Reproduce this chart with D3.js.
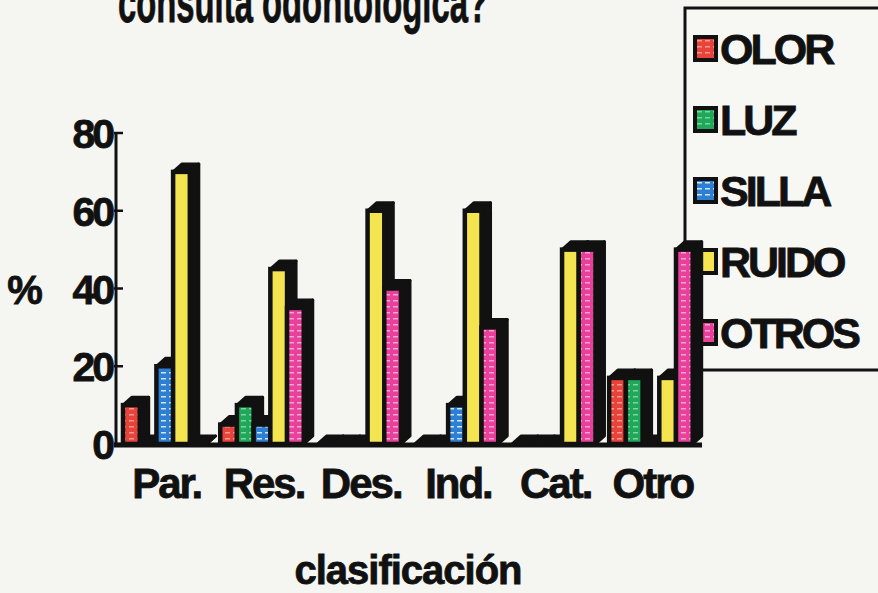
<!DOCTYPE html>
<html>

<head>
  <script src="https://d3js.org/d3.v7.min.js"></script>
  <style>
    body {
      margin: 0;
      background: #f5f5f2;
    }

    .chart text {
      font-family: "Liberation Sans", Arial, sans-serif;
      font-weight: bold;
      fill: #111;
      stroke: #111;
      stroke-width: 0.8px;
    }
  </style>
</head>

<body>
  <div id="chart"></div>

  <script>
    // chart data
    const categories = ["Par.", "Res.", "Des.", "Ind.", "Cat.", "Otro"];
    const seriesNames = ["OLOR", "LUZ", "SILLA", "RUIDO", "OTROS"];
    const olor = [10, 5, 0, 0, 0, 17];
    const luz = [0, 10, 0, 0, 0, 17];
    const silla = [20, 5, 0, 10, 0, 0];
    const ruido = [70, 45, 60, 60, 50, 17];
    const otros = [0, 35, 40, 30, 50, 50];
    const yTicks = [0, 20, 40, 60, 80];

    const seriesValues = [olor, luz, silla, ruido, otros];
    const colors = ["#e8433b", "#1fa85a", "#2c7fd2", "#f3e450", "#e9409c"];
    const stripe = ["#f59a8c", "#7fd39c", "#cfe6ff", null, "#f7a6d2"];

    const width = 878, height = 593;
    const depth = { dx: 9, dy: 8 };

    const svg = d3.select("#chart")
      .append("svg")
      .attr("class", "chart")
      .attr("width", width)
      .attr("height", height);

    svg.append("rect")
      .attr("width", width)
      .attr("height", height)
      .attr("fill", "#f5f5f2");

    // stripe patterns for the bar faces
    const defs = svg.append("defs");
    seriesNames.forEach((name, i) => {
      const p = defs.append("pattern")
        .attr("id", "pat" + i)
        .attr("patternUnits", "userSpaceOnUse")
        .attr("width", 8)
        .attr("height", 6);
      p.append("rect").attr("width", 8).attr("height", 6).attr("fill", colors[i]);
      if (stripe[i]) {
        p.append("rect").attr("x", 1).attr("y", 0).attr("width", 5).attr("height", 1.5)
          .attr("fill", stripe[i]);
      }
    });

    // scales
    const x = d3.scaleBand()
      .domain(categories)
      .range([123, 692.7])
      .paddingInner(0.141)
      .paddingOuter(0);

    const xs = d3.scaleBand()
      .domain(seriesNames)
      .range([0, x.bandwidth()])
      .padding(0);

    const y = d3.scaleLinear()
      .domain([0, 80])
      .range([444, 133]);

    // title (only the lower line survives in the scan)
    svg.append("text")
      .attr("x", 118)
      .attr("y", 22)
      .attr("font-size", 58)
      .attr("textLength", 370)
      .attr("lengthAdjust", "spacingAndGlyphs")
      .text("consulta odontológica?");

    // legend box (bars overlap its left edge)
    const legend = svg.append("g").attr("class", "legend");
    legend.append("rect")
      .attr("x", 685)
      .attr("y", 8)
      .attr("width", 220)
      .attr("height", 362)
      .attr("fill", "#f7f7f4")
      .attr("stroke", "#111")
      .attr("stroke-width", 3);

    // y axis
    const yAxis = svg.append("g").attr("class", "y-axis");
    yAxis.append("line")
      .attr("x1", 116).attr("x2", 116)
      .attr("y1", y(80) - 1).attr("y2", y(0) + 2)
      .attr("stroke", "#111")
      .attr("stroke-width", 3);
    yAxis.selectAll(".tick")
      .data(yTicks)
      .enter().append("line")
      .attr("x1", 114).attr("x2", 123)
      .attr("y1", d => y(d)).attr("y2", d => y(d))
      .attr("stroke", "#111")
      .attr("stroke-width", 2.5);
    yAxis.selectAll("text")
      .data(yTicks)
      .enter().append("text")
      .attr("x", 112)
      .attr("y", d => y(d) + 15)
      .attr("text-anchor", "end")
      .attr("font-size", 41)
      .attr("letter-spacing", -3)
      .text(d => d);

    svg.append("text")
      .attr("x", 25)
      .attr("y", 304)
      .attr("text-anchor", "middle")
      .attr("font-size", 40)
      .text("%");

    // floor line
    svg.append("line")
      .attr("x1", 114).attr("x2", 702)
      .attr("y1", y(0) + 1).attr("y2", y(0) + 1)
      .attr("stroke", "#111")
      .attr("stroke-width", 5);

    // 3d bars, drawn left to right so later bars hide earlier side faces
    const bars = [];
    categories.forEach((cat, g) => {
      seriesNames.forEach((name, s) => {
        bars.push({ cat, name, s, value: seriesValues[s][g] });
      });
    });

    const barG = svg.append("g").attr("class", "bars");
    bars.forEach(d => {
      const x0 = x(d.cat) + xs(d.name);
      const w = xs.bandwidth();
      const yTop = y(d.value), yBot = y(0);
      const { dx, dy } = depth;
      const b = barG.append("g");
      // side face
      b.append("polygon")
        .attr("points", [[x0 + w, yBot], [x0 + w + dx, yBot - dy], [x0 + w + dx, yTop - dy], [x0 + w, yTop]].join(" "))
        .attr("fill", "#111").attr("stroke", "#111").attr("stroke-width", 3)
        .attr("stroke-linejoin", "round");
      // top face
      b.append("polygon")
        .attr("points", [[x0, yTop], [x0 + dx, yTop - dy], [x0 + w + dx, yTop - dy], [x0 + w, yTop]].join(" "))
        .attr("fill", "#111").attr("stroke", "#111").attr("stroke-width", 3)
        .attr("stroke-linejoin", "round");
      // front face
      if (d.value > 0) {
        b.append("rect")
          .attr("x", x0)
          .attr("y", yTop)
          .attr("width", w)
          .attr("height", yBot - yTop)
          .attr("fill", `url(#pat${d.s})`)
          .attr("stroke", "#111")
          .attr("stroke-width", 4.5);
      }
    });

    // x labels
    svg.append("g")
      .selectAll("text")
      .data(categories)
      .enter().append("text")
      .attr("x", d => x(d) + x.bandwidth() / 2 + 2)
      .attr("y", 498)
      .attr("text-anchor", "middle")
      .attr("font-size", 42)
      .attr("letter-spacing", -2)
      .text(d => d);

    svg.append("text")
      .attr("x", 408)
      .attr("y", 584)
      .attr("text-anchor", "middle")
      .attr("font-size", 40)
      .attr("letter-spacing", -1)
      .text("clasificación");

    // legend items
    const items = legend.selectAll(".item")
      .data(seriesNames)
      .enter().append("g")
      .attr("class", "item")
      .attr("transform", (d, i) => `translate(0, ${64 + i * 71})`);

    items.append("rect")
      .attr("x", 695)
      .attr("y", -27)
      .attr("width", 21)
      .attr("height", 23)
      .attr("fill", (d, i) => `url(#pat${i})`)
      .attr("stroke", "#111")
      .attr("stroke-width", 4);

    items.append("text")
      .attr("x", 720)
      .attr("y", 0)
      .attr("font-size", 43)
      .attr("letter-spacing", -3)
      .text(d => d);
  </script>
</body>

</html>
